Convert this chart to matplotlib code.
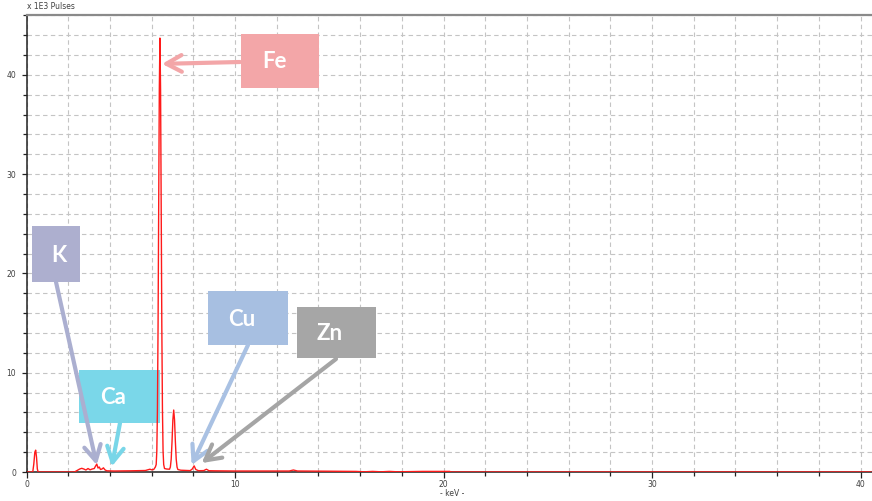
import matplotlib
matplotlib.use("Agg")
import matplotlib.pyplot as plt
from matplotlib.patches import Rectangle
from matplotlib.ticker import MultipleLocator, FixedLocator

# ---- data (keV, x1E3 pulses) ----
energy_kev = [0.00, 0.30, 0.35, 0.40, 0.44, 0.48, 0.52, 0.56, 2.30, 2.40, 2.55, 2.65, 2.75,
              2.85, 2.95, 3.05, 3.15, 3.25, 3.30, 3.37, 3.43, 3.49, 3.55, 3.62, 3.69, 3.76,
              3.85, 4.20, 5.00, 5.70, 5.85, 5.92, 6.00, 6.10, 6.18, 6.22, 6.25, 6.28, 6.31,
              6.34, 6.37, 6.40, 6.43, 6.46, 6.49, 6.52, 6.55, 6.58, 6.62, 6.72, 6.86, 6.90,
              6.94, 6.98, 7.02, 7.06, 7.10, 7.14, 7.18, 7.22, 7.26, 7.40, 7.85, 7.95, 8.04,
              8.12, 8.25, 8.50, 8.63, 8.75, 9.00, 10.00, 11.50, 12.60, 12.80, 13.00, 14.50,
              15.80, 16.20, 16.60, 17.00, 17.40, 17.80, 19.00, 20.30, 20.35, 40.50]
counts_k = [0.00, 0.00, 0.80, 2.00, 2.20, 1.50, 0.30, 0.00, 0.00, 0.12, 0.30, 0.37, 0.30,
            0.20, 0.35, 0.22, 0.30, 0.35, 0.55, 0.80, 0.40, 0.50, 0.25, 0.30, 0.42, 0.22,
            0.12, 0.10, 0.12, 0.15, 0.24, 0.28, 0.22, 0.25, 0.50, 0.75, 2.10, 6.30, 14.70,
            26.80, 38.50, 43.70, 38.50, 26.80, 14.70, 6.30, 2.10, 0.75, 0.35, 0.30, 0.28,
            0.50, 1.30, 3.06, 5.25, 6.24, 5.25, 3.06, 1.30, 0.50, 0.25, 0.18, 0.14, 0.30,
            0.62, 0.25, 0.13, 0.14, 0.28, 0.13, 0.12, 0.10, 0.10, 0.10, 0.20, 0.10, 0.08,
            0.06, 0.02, 0.06, 0.02, 0.06, 0.02, 0.06, 0.06, 0.00, 0.00]

x_major = [0, 10, 20, 30, 40]
y_major = [0, 10, 20, 30, 40]

# annotation labels: (text, box colour, box pixel rect, text pixel centre, tail pixel, tip in data)
labels = ["Fe", "K", "Ca", "Cu", "Zn"]
box_colors = ["#F3A6A8", "#ADAFCF", "#7AD7E9", "#A7BFE1", "#A6A6A6"]
arrow_colors = ["#F3A6A8", "#ABAFD0", "#79D6E8", "#A9C1E3", "#A5A5A5"]
box_px = [(241, 34, 319, 88), (32, 226, 80, 282), (79, 370, 160, 423),
          (208, 291, 288, 345), (297, 307, 376, 358)]
text_px = [(274, 62), (59, 255), (113, 397), (242, 319), (330, 334)]
tail_px = [(240, 62), (56, 282), (120, 423), (248, 345), (336, 359)]
tip_data = [(6.50, 41.1), (3.37, 0.70), (4.09, 0.55), (7.92, 0.70), (8.40, 0.90)]

W, H = 872, 501
X0, XS = 26.5, 20.85   # pixel of 0 keV, pixels per keV
Y0, YS = 472.0, 9.93   # pixel of 0 counts, pixels per unit


def to_data(px, py):
    return ((px - X0) / XS, (Y0 - py) / YS)


fig = plt.figure(figsize=(W / 100, H / 100), dpi=100)
ax = fig.add_axes([X0 / W, (H - Y0) / H, (W - X0) / W, (Y0 - 15) / H])
ax.set_xlim(0, (W - X0) / XS)
ax.set_ylim(0, (Y0 - 15) / YS)

# grid
ax.xaxis.set_major_locator(FixedLocator(x_major))
ax.xaxis.set_minor_locator(MultipleLocator(2))
ax.yaxis.set_major_locator(FixedLocator(y_major))
ax.yaxis.set_minor_locator(MultipleLocator(2))
ax.grid(True, which="both", color="#c4c4c4", linestyle=(0, (4, 3)), linewidth=0.8)
ax.set_axisbelow(True)

ax.tick_params(axis="both", which="both", labelsize=5.5, labelcolor="#404040",
               color="#222222", width=0.9)
ax.tick_params(axis="x", which="major", direction="out", length=4, pad=1.5)
ax.tick_params(axis="x", which="minor", direction="out", length=3)
ax.tick_params(axis="y", which="major", direction="out", length=3.5, pad=4)
ax.tick_params(axis="y", which="minor", direction="out", length=3)

for s in ["left", "bottom"]:
    ax.spines[s].set_color("#222222")
    ax.spines[s].set_linewidth(1.1)
ax.spines["top"].set_color("#8a8a8a")
ax.spines["top"].set_linewidth(1.6)
ax.spines["right"].set_visible(False)

# spectrum
ax.plot(energy_kev, counts_k, color="#ff1a1a", linewidth=1.0, zorder=5,
        solid_joinstyle="round")

# axis captions
ax.text(0.0, 1.008, "x 1E3 Pulses", transform=ax.transAxes, fontsize=5.5,
        color="#404040", ha="left", va="bottom")
fig.text(452 / W, 1 - 494 / H, "- keV -", fontsize=5.5, color="#404040",
         ha="center", va="center")

# annotation boxes + arrows
for lab, bc, ac, bpx, tpx, tail, tip in zip(labels, box_colors, arrow_colors,
                                           box_px, text_px, tail_px, tip_data):
    x1, y1 = to_data(bpx[0], bpx[3])
    x2, y2 = to_data(bpx[2], bpx[1])
    ax.add_patch(Rectangle((x1, y1), x2 - x1, y2 - y1, facecolor=bc,
                           edgecolor="none", zorder=4, clip_on=False))
    tx, ty = to_data(*tpx)
    ax.text(tx, ty, lab, fontsize=16, fontweight="bold", family="Lato",
            color="white", ha="center", va="center", zorder=6)
    ax.annotate("", xy=tip, xytext=to_data(*tail), zorder=6,
                arrowprops=dict(arrowstyle="->,head_length=0.55,head_width=0.3",
                                color=ac, lw=3.0, mutation_scale=20,
                                shrinkA=0, shrinkB=0, capstyle="round",
                                joinstyle="round"))

fig.savefig("out.png", dpi=100)
